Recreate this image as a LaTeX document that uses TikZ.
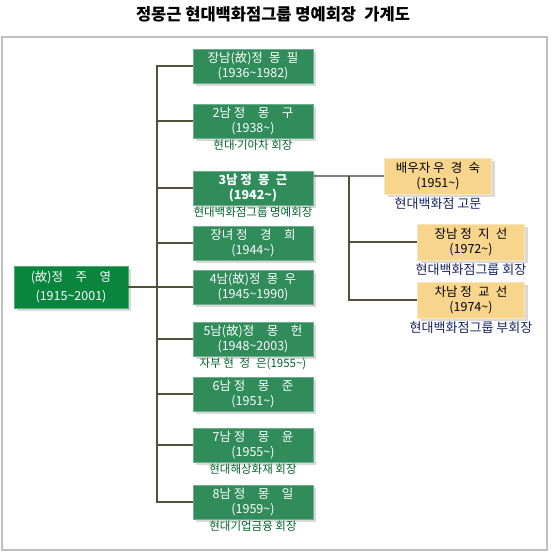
\documentclass[tikz,border=0pt]{standalone}
\usepackage{fontspec}
\setmainfont{Noto Sans CJK KR}
\usepackage{xcolor}
\usepackage{tikz}
\usetikzlibrary{positioning,shadows}

\definecolor{famgreen}{RGB}{48,140,90}
\definecolor{rootgreen}{RGB}{10,133,62}
\definecolor{famtan}{RGB}{247,213,140}
\definecolor{famline}{RGB}{82,82,58}
\definecolor{notegreen}{RGB}{0,100,40}
\definecolor{notenavy}{RGB}{22,34,100}

\newcommand{\til}{\textasciitilde}

\begin{document}
\begin{tikzpicture}[
    x=1pt, y=1pt,
    node distance=1pt,
    font=\fontsize{12.5}{14.5}\selectfont,
    gbox/.style={
        fill=famgreen,
        draw=famgreen!70!white,
        text=white,
        align=center,
        inner sep=1pt,
        minimum width=120pt,
        minimum height=34pt,
        drop shadow={shadow xshift=3pt, shadow yshift=-3pt, opacity=0.3}
    },
    rootbox/.style={
        gbox,
        fill=rootgreen,
        draw=rootgreen!70!white,
        minimum width=114pt,
        minimum height=42pt,
        font=\fontsize{12.5}{19}\selectfont
    },
    tbox/.style={
        gbox,
        fill=famtan,
        draw=famtan!60!white,
        text=black,
        minimum width=107pt,
        minimum height=36pt,
        font=\fontsize{12.5}{15}\selectfont
    },
    gnote/.style={
        text=notegreen,
        inner sep=1pt,
        font=\fontsize{11.5}{12}\selectfont
    },
    tnote/.style={
        text=notenavy,
        inner sep=2pt,
        font=\fontsize{13}{14}\selectfont
    },
    edge/.style={draw=famline, line width=1.2pt},
    link/.style={draw=gray, line width=2pt}
]
    \useasboundingbox (0,0) rectangle (550,-552);
    \draw[gray!50, line width=1.5pt] (2,-37) rectangle (547,-550);

    \node[font=\fontsize{16.5}{19}\selectfont\bfseries] (title) at (273,-14)
        {정몽근 현대백화점그룹 명예회장\enspace 가계도};

    \node[rootbox] (root) at (71,-287) {(故)정\quad 주\quad 영\\(1915\til2001)};

    \node[gbox] (b1) at (253,-66) {장남(故)정\enspace 몽\enspace 필\\(1936\til1982)};
    \node[gbox] (b2) at (253,-121) {2남 정\quad 몽\quad 구\\(1938\til)};
    \node[gbox, font=\fontsize{12.5}{14.5}\selectfont\bfseries] (b3) at (253,-188)
        {3남 정\enspace 몽\enspace 근\\(1942\til)};
    \node[gbox] (b4) at (253,-243) {장녀 정\quad 경\quad 희\\(1944\til)};
    \node[gbox] (b5) at (253,-287) {4남(故)정\enspace 몽\enspace 우\\(1945\til1990)};
    \node[gbox] (b6) at (253,-339) {5남(故)정\quad 몽\quad 헌\\(1948\til2003)};
    \node[gbox] (b7) at (253,-394) {6남 정\quad 몽\quad 준\\(1951\til)};
    \node[gbox] (b8) at (253,-445) {7남 정\quad 몽\quad 윤\\(1955\til)};
    \node[gbox] (b9) at (253,-502) {8남 정\quad 몽\quad 일\\(1959\til)};

    \node[gnote, below=of b2] (n2) {현대\kern-2pt·\kern-2pt기아차 회장};
    \node[gnote, below=of b3] (n3) {현대백화점그룹 명예회장};
    \node[gnote, below=of b6] (n6) {자부 현\enspace 정\enspace 은(1955\til)};
    \node[gnote, below=of b8] (n8) {현대해상화재 회장};
    \node[gnote, below=of b9] (n9) {현대기업금융 회장};

    \node[tbox] (spouse) at (438,-176) {배우자 우\enspace 경\enspace 숙\\(1951\til)};
    \node[tbox] (son1) at (471,-242) {장남 정\enspace 지\enspace 선\\(1972\til)};
    \node[tbox] (son2) at (471,-300) {차남 정\enspace 교\enspace 선\\(1974\til)};

    \node[tnote, below=of spouse] (ns) {현대백화점 고문};
    \node[tnote, below=of son1] (ns1) {현대백화점그룹 회장};
    \node[tnote, below=of son2] (ns2) {현대백화점그룹 부회장};

    \coordinate (trunk) at (157,0);
    \coordinate (sub) at (349,0);

    \draw[edge] (b1.west) -- (b1.west -| trunk) -- (b9.west -| trunk) -- (b9.west);
    \foreach \n in {2,...,8}
        \draw[edge] (b\n.west) -- (b\n.west -| trunk);
    \draw[edge] (root.east) -- (b5.west);

    \draw[link] (b3.east |- spouse.west) -- (spouse.west);
    \draw[edge] (spouse.west -| sub) -- (son2.west -| sub) -- (son2.west);
    \draw[edge] (son1.west) -- (son1.west -| sub);
\end{tikzpicture}
\end{document}
